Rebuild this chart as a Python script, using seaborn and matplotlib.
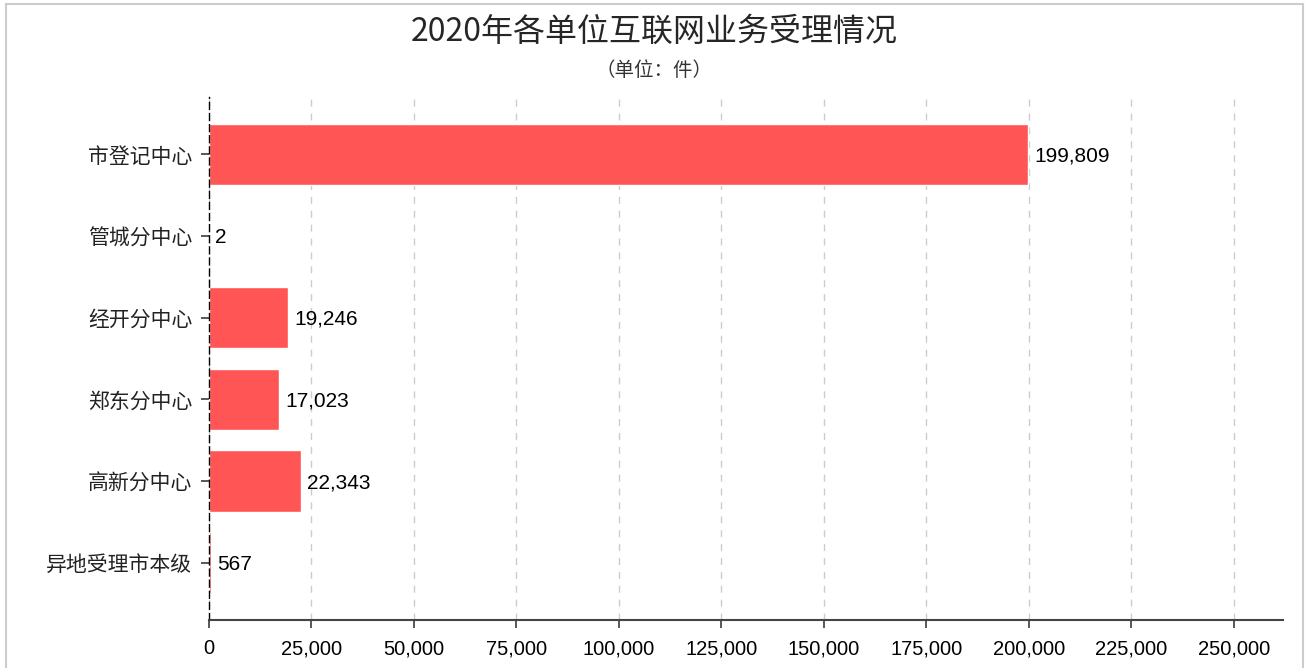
import matplotlib
matplotlib.use("Agg")
import matplotlib.pyplot as plt
import seaborn as sns
import pandas as pd
from matplotlib.ticker import FuncFormatter
from matplotlib.patches import Rectangle

# chart data
units = ['市登记中心', '管城分中心', '经开分中心', '郑东分中心', '高新分中心', '异地受理市本级']
counts = [199809, 2, 19246, 17023, 22343, 567]
xticks = [0, 25000, 50000, 75000, 100000, 125000, 150000, 175000, 200000, 225000, 250000]

df = pd.DataFrame({'unit': units, 'count': counts})

sns.set_theme(style='white')
plt.rcParams['font.family'] = ['Liberation Sans', 'Noto Sans CJK SC', 'DejaVu Sans']

fig = plt.figure(figsize=(13.08, 6.68), dpi=100)
ax = fig.add_axes([209 / 1308, 1 - 620 / 668, (1283 - 209) / 1308, (620 - 97) / 668])

sns.barplot(data=df, y='unit', x='count', color='#FF5555', saturation=1,
            width=0.75, orient='h', ax=ax)

for i, v in enumerate(counts):
    ax.text(v + 1500, i + 0.02, f'{v:,}', va='center', ha='left', fontsize=15, color='black')

ax.set_xlim(0, 262000)
ax.set_ylim(5.7, -0.7)
ax.set_xticks(xticks)
ax.xaxis.set_major_formatter(FuncFormatter(lambda x, p: f'{int(x):,}'))
ax.tick_params(axis='x', labelsize=14.5, length=6, color='#444444', pad=8, bottom=True)
ax.tick_params(axis='y', labelsize=15, length=6, color='#444444', pad=6, left=True)
for lab in ax.get_xticklabels():
    lab.set_color('black')
for lab in ax.get_yticklabels():
    lab.set_family(['Noto Sans CJK SC'])
    lab.set_color('#222222')
ax.set_xlabel('')
ax.set_ylabel('')

ax.grid(axis='x', linestyle=(0, (5, 5)), color='#CCCCCC', linewidth=1)
ax.set_axisbelow(True)
for s in ['top', 'right']:
    ax.spines[s].set_visible(False)
ax.spines['bottom'].set_color('#444444')
ax.spines['bottom'].set_linewidth(1.5)
ax.spines['left'].set_color('black')
ax.spines['left'].set_linestyle((0, (5, 3)))
ax.spines['left'].set_linewidth(1)

fig.text(0.5, 1 - 32 / 668, '2020年各单位互联网业务受理情况', ha='center', va='center',
         fontsize=23, family=['Noto Sans CJK SC'])
fig.text(0.5, 1 - 70 / 668, '（单位：件）', ha='center', va='center',
         fontsize=14, family=['Noto Sans CJK SC'], color='#333333')

fig.patches.append(Rectangle((6 / 1308, -0.01), 1297 / 1308, 1 - 4 / 668 + 0.01,
                             transform=fig.transFigure, fill=False,
                             edgecolor='#CCCCCC', linewidth=1.5))

fig.savefig('out.png', dpi=100)
